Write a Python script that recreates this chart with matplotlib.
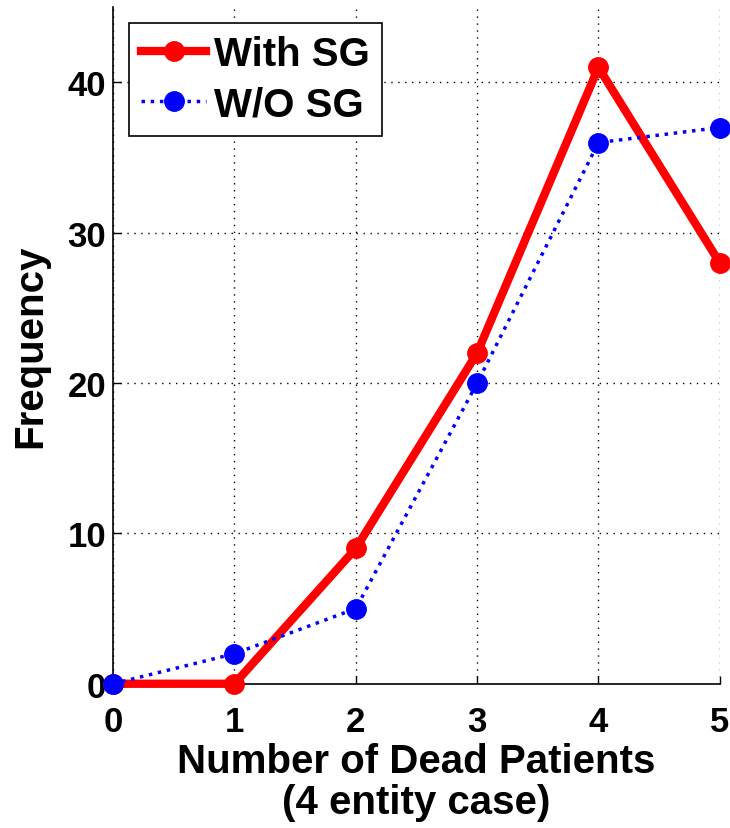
import matplotlib
matplotlib.use("Agg")
import matplotlib.pyplot as plt

x_vals = [0, 1, 2, 3, 4, 5]
with_sg = [0, 0, 9, 22, 41, 28]
without_sg = [0, 2, 5, 20, 36, 37]
x_ticks = [0, 1, 2, 3, 4, 5]
y_ticks = [0, 10, 20, 30, 40]

plt.rcParams['font.family'] = ['Liberation Sans', 'DejaVu Sans']
plt.rcParams['font.weight'] = 'bold'

fig = plt.figure(figsize=(7.3, 8.29), dpi=100)
ax = fig.add_axes([0.155, 0.174, 0.831, 0.816])

ax.plot(x_vals, with_sg, color='red', linestyle='-', linewidth=6,
        marker='o', markersize=14, label='With SG', zorder=3, clip_on=False)
ax.plot(x_vals, without_sg, color='blue', linestyle=':', linewidth=2.5,
        marker='o', markersize=14, label='W/O SG', zorder=4, clip_on=False)

ax.set_xlim(0, 5)
ax.set_ylim(0, 45)
ax.set_xticks(x_ticks)
ax.set_yticks(y_ticks)
ax.tick_params(direction='in', length=6, width=1, labelsize=25)
ax.tick_params(axis='x', pad=15)
ax.tick_params(axis='y', pad=5)
for lab in ax.get_xticklabels() + ax.get_yticklabels():
    lab.set_fontweight('bold')

ax.grid(True, linestyle=(0, (1, 4)), color='black', linewidth=1)
ax.spines['top'].set_visible(False)
ax.spines['right'].set_visible(False)
ax.spines['left'].set_linewidth(1.2)
ax.spines['bottom'].set_linewidth(1.2)

ax.set_xlabel('Number of Dead Patients\n(4 entity case)', fontsize=29,
              fontweight='bold', labelpad=3, linespacing=1.1)
ax.set_ylabel('Frequency', fontsize=29, fontweight='bold', labelpad=13)

leg = ax.legend(loc='upper left', fontsize=29, frameon=True, fancybox=False,
                edgecolor='black', framealpha=1, borderpad=0.3,
                handlelength=1.6, handletextpad=0.2, labelspacing=0.3,
                borderaxespad=0.4)
leg.get_frame().set_linewidth(1.2)
for t in leg.get_texts():
    t.set_fontweight('bold')

fig.savefig('out.png', dpi=100)
